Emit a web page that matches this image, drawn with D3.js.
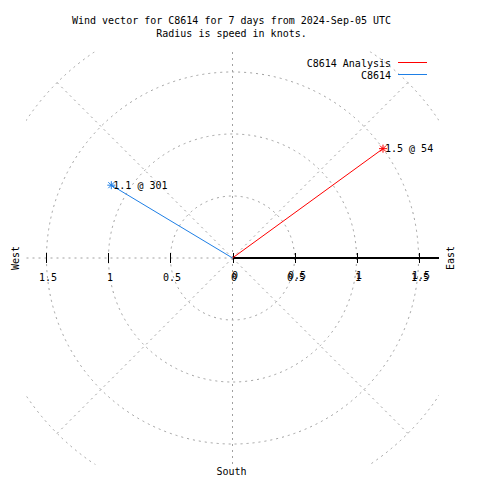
<!DOCTYPE html>
<html><head><meta charset="utf-8">
<script src="https://cdn.jsdelivr.net/npm/d3@7"></script>
<style>
html,body{margin:0;padding:0;background:#fff;}
text{font-family:"DejaVu Sans Mono","Liberation Mono",monospace;font-size:10px;fill:#000;}
</style></head>
<body>
<script>
// ---- data ----
const titleLines = ["Wind vector for C8614 for 7 days from 2024-Sep-05 UTC", "Radius is speed in knots."];
const seriesNames = ["C8614 Analysis", "C8614"];
const speeds = [1.5, 1.14];        // knots
const directions = [54, 301];      // degrees, clockwise from north
const tickValues = [-1.5, -1, -0.5, 0, 0.5, 1, 1.5];
const gridRadii = [0.5, 1, 1.5, 2];
const gridAngles = [0, 45, 90, 135, 180, 225, 270, 315];
const compassLabels = ["West", "East", "South"];

// ---- styles ----
const seriesColors = ["#ff0000", "#1e7fe6"];
const W = 480, H = 480;
const lim = 1.665;

const svg = d3.select("body").append("svg").attr("width", W).attr("height", H);

const x = d3.scaleLinear().domain([-lim, lim]).range([26, 439]);
const y = d3.scaleLinear().domain([-lim, lim]).range([464.5, 51.5]);
const rPx = d3.scaleLinear().domain([0, lim]).range([0, x(lim) - x(0)]);
const cx = x(0), cy = y(0);

svg.append("defs").append("clipPath").attr("id", "plotclip")
  .append("rect").attr("x", x(-lim)).attr("y", y(lim))
  .attr("width", x(lim) - x(-lim)).attr("height", y(-lim) - y(lim));

const grid = svg.append("g").attr("clip-path", "url(#plotclip)")
  .attr("fill", "none").attr("stroke", "#a0a0a0").attr("stroke-width", 1)
  .attr("stroke-dasharray", "2,4");

grid.selectAll("circle").data(gridRadii).join("circle")
  .attr("cx", cx).attr("cy", cy).attr("r", d => rPx(d));

grid.selectAll("line").data(gridAngles).join("line")
  .attr("x1", cx).attr("y1", cy)
  .attr("x2", d => x(2 * Math.sin(d * Math.PI / 180)))
  .attr("y2", d => y(2 * Math.cos(d * Math.PI / 180)));

// solid positive x-axis
svg.append("line").attr("x1", cx).attr("y1", cy).attr("x2", x(lim)).attr("y2", cy)
  .attr("stroke", "#000").attr("stroke-width", 1.2).attr("shape-rendering", "crispEdges");

// tick marks
svg.append("g").selectAll("line").data(tickValues).join("line")
  .attr("x1", d => Math.round(x(d)) + 0.5).attr("x2", d => Math.round(x(d)) + 0.5)
  .attr("y1", cy - 5).attr("y2", cy + 5)
  .attr("stroke", "#000").attr("stroke-width", 1).attr("shape-rendering", "crispEdges");

// tick labels
const fmt = d3.format("~g");
const tl = svg.append("g").attr("text-anchor", "middle");
tl.selectAll("text.a").data(tickValues).join("text").attr("class", "a")
  .attr("x", d => x(d) + 1.5).attr("y", 281).text(d => fmt(Math.abs(d)));
// overlapping second set on the non-negative side
tl.selectAll("text.b").data(tickValues.filter(d => d >= 0)).join("text").attr("class", "b")
  .attr("x", d => x(d) + 2.5).attr("y", 279).text(d => fmt(Math.abs(d)));

// compass labels
svg.append("text").attr("transform", `translate(${19},${cy}) rotate(-90)`)
  .attr("text-anchor", "middle").text(compassLabels[0]);
svg.append("text").attr("transform", `translate(${454},${cy}) rotate(-90)`)
  .attr("text-anchor", "middle").text(compassLabels[1]);
svg.append("text").attr("x", cx - 1).attr("y", 475).attr("text-anchor", "middle").text(compassLabels[2]);

// vectors
const vec = seriesNames.map((n, i) => ({
  name: n, s: speeds[i], dir: directions[i], color: seriesColors[i],
  ex: x(speeds[i] * Math.sin(directions[i] * Math.PI / 180)),
  ey: y(speeds[i] * Math.cos(directions[i] * Math.PI / 180))
}));
const vg = svg.append("g");
vg.selectAll("line").data(vec).join("line")
  .attr("x1", cx).attr("y1", cy).attr("x2", d => d.ex).attr("y2", d => d.ey)
  .attr("stroke", d => d.color).attr("stroke-width", 1);
// star markers
const star = vg.selectAll("g.star").data(vec).join("g").attr("class", "star")
  .attr("transform", d => `translate(${d.ex},${d.ey})`)
  .attr("stroke", d => d.color).attr("stroke-width", 1);
star.append("path").attr("d", "M-4,0H4M0,-4V4M-3,-3L3,3M-3,3L3,-3");
vg.selectAll("text").data(vec).join("text")
  .attr("x", d => d.ex + 2).attr("y", d => d.ey + 3.5)
  .text(d => `${d3.format(".1f")(d.s)} @ ${d.dir}`);

// title
svg.append("g").attr("text-anchor", "middle").selectAll("text").data(titleLines).join("text")
  .attr("x", 231.5).attr("y", (d, i) => 24 + i * 12.5).text(d => d);

// legend
const lg = svg.append("g").selectAll("g").data(seriesNames).join("g")
  .attr("transform", (d, i) => `translate(0,${i * 12})`);
lg.append("text").attr("x", 391).attr("y", 66.5).attr("text-anchor", "end").text(d => d);
lg.append("line").attr("x1", 398).attr("x2", 427).attr("y1", 62.5).attr("y2", 62.5)
  .attr("stroke", (d, i) => seriesColors[i]).attr("stroke-width", 1).attr("shape-rendering", "crispEdges");
</script>
</body></html>
